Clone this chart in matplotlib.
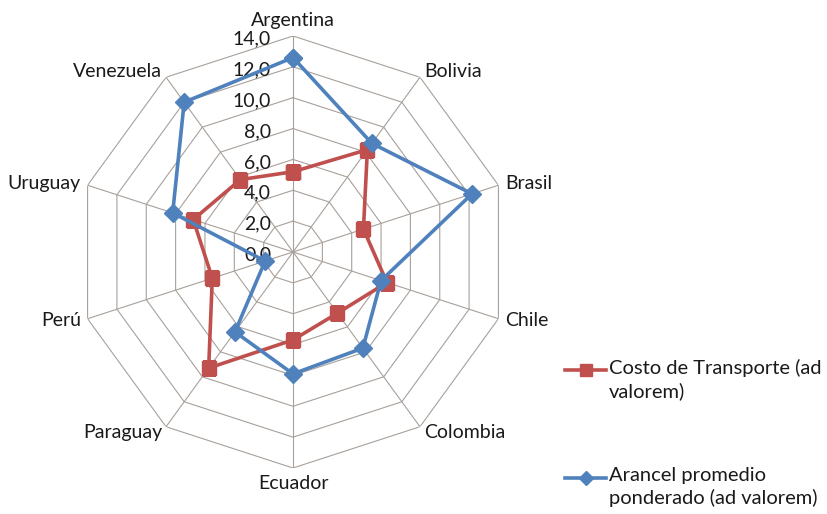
import numpy as np
import matplotlib.pyplot as plt
from matplotlib.lines import Line2D
from matplotlib.transforms import offset_copy

plt.rcParams['font.family'] = ['Lato', 'DejaVu Sans']

paises = ["Argentina", "Bolivia", "Brasil", "Chile", "Colombia",
          "Ecuador", "Paraguay", "Perú", "Uruguay", "Venezuela"]
costo_transporte = [5.2, 8.2, 4.8, 6.4, 4.9, 5.7, 9.3, 5.5, 6.8, 5.8]
arancel_promedio = [12.6, 8.7, 12.2, 6.0, 7.7, 7.9, 6.4, 1.9, 8.2, 12.0]
niveles = [0, 2, 4, 6, 8, 10, 12, 14]
etiquetas_niveles = ["0,0", "2,0", "4,0", "6,0", "8,0", "10,0", "12,0", "14,0"]

rojo = "#C0504D"
azul = "#4F81BD"
gris = "#A8A09A"
texto_color = "#1a1a1a"

fig = plt.figure(figsize=(8.27, 5.14), dpi=100)
ax = fig.add_axes([0.0931, 0.0895, 0.5224, 0.8405], projection="polar")
ax.set_theta_zero_location("N")
ax.set_theta_direction(-1)
ax.set_ylim(0, 14)
ax.grid(False)
ax.set_xticks([])
ax.set_yticks([])
ax.spines["polar"].set_visible(False)
ax.patch.set_visible(False)

n = len(paises)
ang = np.linspace(0, 2 * np.pi, n, endpoint=False)
ang_c = np.append(ang, ang[0])

# decagon rings and spokes
for r in niveles[1:]:
    ax.plot(ang_c, [r] * (n + 1), color=gris, lw=0.8, zorder=1)
for a in ang:
    ax.plot([a, a], [0, 14], color=gris, lw=0.8, zorder=1)

# radial scale labels along the top spoke
trans_lbl = offset_copy(ax.transData, fig=fig, x=-22, y=-3, units="dots")
for r, t in zip(niveles, etiquetas_niveles):
    ax.text(0, r, t, transform=trans_lbl, ha="right", va="center",
            fontsize=14, color=texto_color)

# category labels outside the outer ring
for a, p in zip(ang, paises):
    s, c = np.sin(a), np.cos(a)
    ha = "left" if s > 0.1 else ("right" if s < -0.1 else "center")
    va = "bottom" if c > 0.9 else ("top" if c < -0.9 else "center")
    tr = offset_copy(ax.transData, fig=fig, x=7 * s, y=7 * c, units="dots")
    ax.text(a, 14, p, transform=tr, ha=ha, va=va, fontsize=14, color=texto_color)

ax.plot(ang_c, costo_transporte + costo_transporte[:1], color=rojo, lw=2.6,
        marker="s", markersize=10, zorder=3)
ax.plot(ang_c, arancel_promedio + arancel_promedio[:1], color=azul, lw=2.6,
        marker="D", markersize=9, zorder=4)

# legend drawn by hand so the sample sits beside the first text line
def entrada(y, color, marker, ms, texto):
    fig.add_artist(Line2D([0.683, 0.708, 0.733], [y, y, y], transform=fig.transFigure,
                          color=color, lw=2.6, marker=marker, markersize=ms,
                          markevery=[1]))
    fig.text(0.736, y + 0.022, texto, ha="left", va="top", fontsize=14.5,
             color=texto_color, linespacing=1.35, transform=fig.transFigure)

entrada(1 - 370 / 514, rojo, "s", 9, "Costo de Transporte (ad\nvalorem)")
entrada(1 - 478 / 514, azul, "D", 7, "Arancel promedio\nponderado (ad valorem)")

fig.savefig("out.png", dpi=100, facecolor="white")
